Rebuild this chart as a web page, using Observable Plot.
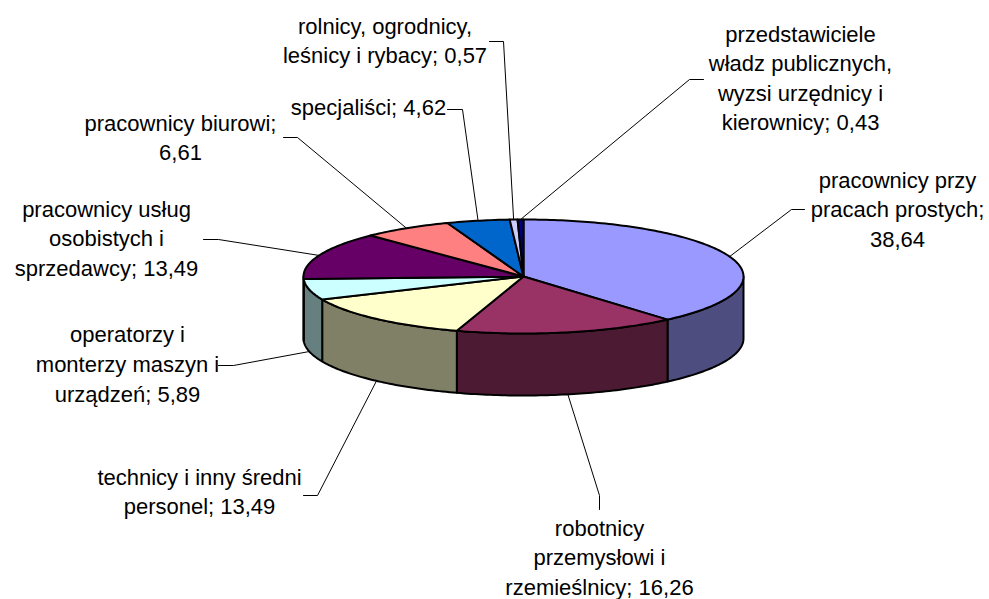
<!DOCTYPE html>
<html lang="pl">
<head>
<meta charset="utf-8">
<script src="https://cdn.jsdelivr.net/npm/d3@7"></script>
<script src="https://cdn.jsdelivr.net/npm/@observablehq/plot@0.6"></script>
<style>
html,body{margin:0;padding:0;background:#fff;overflow:hidden}
svg{display:block}
</style>
</head>
<body>
<div id="chart"></div>
<script>
// Data
const values = [38.64, 16.26, 13.49, 5.89, 13.49, 6.61, 4.62, 0.57, 0.43];
const labels = [
  "pracownicy przy\npracach prostych;\n38,64",
  "robotnicy\nprzemysłowi i\nrzemieślnicy; 16,26",
  "technicy i inny średni\npersonel; 13,49",
  "operatorzy i\nmonterzy maszyn i\nurządzeń; 5,89",
  "pracownicy usług\nosobistych i\nsprzedawcy; 13,49",
  "pracownicy biurowi;\n6,61",
  "specjaliści; 4,62",
  "rolnicy, ogrodnicy,\nleśnicy i rybacy; 0,57",
  "przedstawiciele\nwładz publicznych,\nwyzsi urzędnicy i\nkierownicy; 0,43"
];
const topColors  = ["#9999FF","#993366","#FFFFCC","#CCFFFF","#660066","#FF8080","#0066CC","#CCCCFF","#000080"];
const wallColors = ["#4D4D80","#4D1A33","#808066","#668080","#330033","#804040","#003366","#666680","#000040"];

// Layout (chart space)
const cx = 523, cy = 276, rx = 220, ry = 57, depth = 62;
const labelX = [897, 599, 199, 127, 106, 180, 368, 384.5, 800];
const labelY = [210, 558, 492, 364.5, 239, 138, 108, 41, 78.5];
const kneeX  = [791, 599, 317, 233, 218, 297, 462, 503, 689];
const kneeY  = [209, 495, 495, 365, 239, 137, 109, 41, 79];
const endX   = [804, 599, 303, 218, 203, 283, 447, 489, 703];
const endY   = [209, 509, 495, 365, 239, 137, 109, 41, 79];

const rad = d => d * Math.PI / 180;
const onRim = (deg, drop = 0) => ({
  x: cx + rx * Math.sin(rad(deg)),
  y: cy - ry * Math.cos(rad(deg)) + drop
});
const arc = (a0, a1, drop = 0) => {
  const n = Math.max(2, Math.ceil(Math.abs(a1 - a0)));
  return d3.range(n + 1).map(i => onRim(a0 + (a1 - a0) * i / n, drop));
};

// Slices from the values
const total = d3.sum(values);
let run = 0;
const slices = values.map((v, i) => {
  const a0 = run / total * 360;
  run += v;
  const a1 = run / total * 360;
  return {i, a0, a1, mid: (a0 + a1) / 2};
});

const opts = (fill, strokeWidth = 2) => ({
  x: "x", y: "y", fill, stroke: "#000", strokeWidth,
  strokeLinejoin: "round", curve: "linear"
});

const wallMarks = slices.flatMap(s => {
  const a0 = Math.max(s.a0, 90), a1 = Math.min(s.a1, 270);
  if (a1 <= a0) return [];
  const pts = [...arc(a0, a1), ...arc(a1, a0, depth)];
  pts.push(pts[0]);
  return [Plot.line(pts, opts(wallColors[s.i]))];
});

const topMarks = slices.map(s => {
  const c = {x: cx, y: cy};
  return Plot.line([c, ...arc(s.a0, s.a1), c], opts(topColors[s.i]));
});

const leaderMarks = slices.map(s => {
  const front = s.mid > 90 && s.mid < 270;
  const start = onRim(s.mid, front ? depth : 0);
  return Plot.line(
    [start, {x: kneeX[s.i], y: kneeY[s.i]}, {x: endX[s.i], y: endY[s.i]}],
    {x: "x", y: "y", stroke: "#000", strokeWidth: 1, curve: "linear"}
  );
});

const table = slices.map(s => ({label: labels[s.i], x: labelX[s.i], y: labelY[s.i]}));

const chart = Plot.plot({
  width: 989,
  height: 599,
  margin: 0,
  style: {background: "#fff"},
  x: {domain: [0, 989], range: [0, 989], axis: null},
  y: {domain: [0, 599], range: [0, 599], axis: null},
  marks: [
    ...leaderMarks,
    ...wallMarks,
    ...topMarks,
    Plot.text(table, {
      x: "x", y: "y", text: "label",
      dy: -2.5,
      fontFamily: "Liberation Sans",
      fontSize: 22,
      lineHeight: 1.345,
      fill: "#000",
      textAnchor: "middle",
      lineAnchor: "middle"
    })
  ]
});
document.getElementById("chart").append(chart);
</script>
</body>
</html>
